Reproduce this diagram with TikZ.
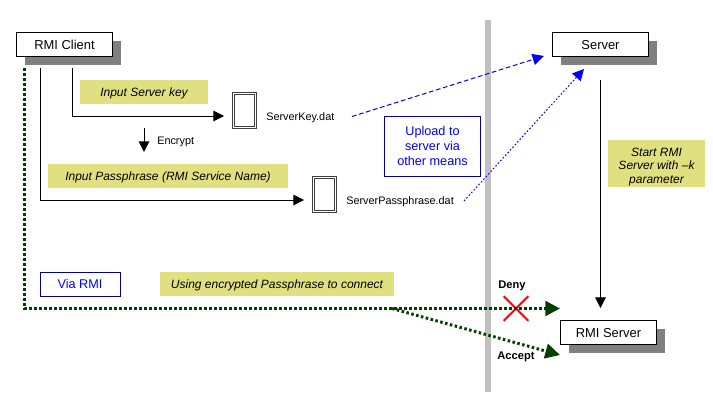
\documentclass[tikz,border=0pt]{standalone}
\usepackage{fontspec}
\setmainfont{Liberation Sans}
\usepackage{xcolor}
\usetikzlibrary{arrows.meta,shadows,shapes.misc}
\definecolor{Wall}{HTML}{C0C0C0}
\definecolor{Note}{HTML}{E0E080}
\definecolor{Navy}{HTML}{0000A0}
\definecolor{Pure}{HTML}{0000FF}
\definecolor{Forest}{HTML}{004000}
\definecolor{Shade}{HTML}{808080}
\begin{document}
\begin{tikzpicture}[
  x=0.75pt,y=-0.75pt,
  host/.style={draw=black,fill=white,line width=0.75pt,minimum width=72pt,minimum height=18pt,inner sep=0pt,text height=9pt,text depth=1pt,font=\fontsize{9.7}{11}\selectfont,general shadow={fill=Shade,shadow xshift=6pt,shadow yshift=-6.4pt}},
  note/.style={fill=Note,inner sep=0pt,font=\fontsize{9}{10.1}\selectfont\itshape,align=center},
  line/.style={text height=8pt,text depth=1pt},
  means/.style={draw=Navy,fill=white,line width=0.75pt,inner sep=0pt,text=Pure,font=\fontsize{9.5}{11.6}\selectfont,align=center},
  doc/.style={draw=black!75,line width=0.5pt,inner sep=0pt},
  small/.style={font=\fontsize{8.15}{9}\selectfont,inner sep=0pt,text height=7pt,text depth=1pt},
  tag/.style={font=\fontsize{8.35}{9}\selectfont\bfseries,inner sep=0pt},
  flow/.style={draw=black,line width=0.75pt,-{Triangle[length=8pt,width=8pt]}},
  upload/.style={draw=Pure,line width=0.75pt,-{Triangle[length=8.5pt,width=8.5pt]}},
  via/.style={draw=Forest,line width=2.25pt,dash pattern=on 1.9pt off 1.85pt,-{Triangle[length=11pt,width=11pt]}}
]
\useasboundingbox (0,0) rectangle (713,407);
\fill[Wall] (485,20) rectangle (491,392);

\node[host] (client) at (64.5,44.5) {RMI Client};
\node[host] (server) at (600.5,44.5) {Server};
\node[host] (rmiserver) at (608.5,332.5) {RMI Server};

\node[note,line,minimum width=96pt,minimum height=18pt] (keynote) at (144,92) {Input Server key};
\node[note,line,minimum width=180pt,minimum height=18pt] (phrasenote) at (168,176) {Input Passphrase (RMI Service Name)};
\node[note,minimum width=73pt,minimum height=35pt] (startnote) at (656.5,163.5) {\rule{0pt}{11pt}Start RMI\\Server with --k\\parameter};
\node[note,line,minimum width=175.5pt,minimum height=18pt] (usingnote) at (277,284) {Using encrypted Passphrase to connect};
\node[means,minimum width=72pt,minimum height=45pt] (uploadbox) at (432.5,146) {Upload to\\server via\\other means};
\node[means,line,minimum width=60pt,minimum height=18pt] (viabox) at (80,284) {Via RMI};

\foreach \name/\x/\y in {keydoc/244.5/110.5,phrasedoc/324.5/194.5} {
  \node[doc,minimum width=17.6pt,minimum height=27pt] (\name) at (\x,\y) {};
  \node[doc,minimum width=15pt,minimum height=24pt] (\name in) at (\x,\y) {};
}
\node[small,anchor=west] (keyname) at (266,116) {ServerKey.dat};
\node[small,anchor=west] (phrasename) at (346,200) {ServerPassphrase.dat};
\node[small,anchor=west] (encrypt) at (157,140) {Encrypt};
\node[tag] (deny) at (512,285.5) {Deny};
\node[tag] (accept) at (516,357) {Accept};
\node[cross out,draw=red,line width=1.5pt,minimum width=17pt,minimum height=17pt,inner sep=0pt] (denycross) at (516,308.5) {};

\coordinate (keystart) at (72,68);
\coordinate (keyend) at (224,116);
\coordinate (phrasestart) at (40,68);
\coordinate (phraseend) at (304,200);
\coordinate (encstart) at (144,128);
\coordinate (encend) at (144,152);
\coordinate (keyout) at (352,116.5);
\coordinate (keyin) at (544,56);
\coordinate (phraseout) at (464,201);
\coordinate (phrasein) at (584,69);
\coordinate (startend) at (600.5,308);
\coordinate (viastart) at (24.5,68);
\coordinate (branch) at (392,308.5);
\coordinate (denyend) at (560,308.5);
\coordinate (acceptend) at (560,355);

\draw[flow] (keystart) |- (keyend);
\draw[flow] (phrasestart) |- (phraseend);
\draw[flow] (encstart) -- (encend);
\draw[flow,shorten <=17pt] (server.south) -- (startend);
\draw[upload,dash pattern=on 3.5pt off 2pt] (keyout) -- (keyin);
\draw[upload,dash pattern=on 1.2pt off 1.5pt] (phraseout) -- (phrasein);
\draw[via] (viastart) |- (denyend);
\draw[via] (branch) -- (acceptend);
\end{tikzpicture}
\end{document}
